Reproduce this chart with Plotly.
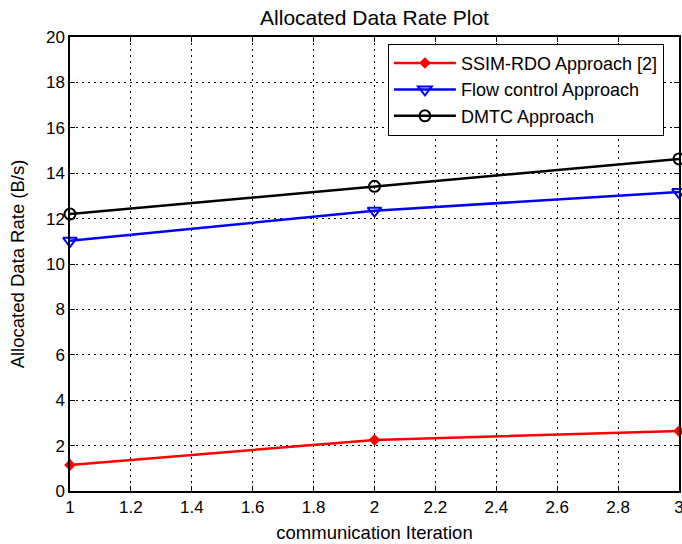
import plotly.graph_objects as go

iterations = [1, 2, 3]
ssim_rdo = [1.15, 2.25, 2.64]
flow_control = [11.02, 12.35, 13.17]
dmtc = [12.2, 13.42, 14.63]

x_ticks = [1, 1.2, 1.4, 1.6, 1.8, 2, 2.2, 2.4, 2.6, 2.8, 3]
x_labels = ["1", "1.2", "1.4", "1.6", "1.8", "2", "2.2", "2.4", "2.6", "2.8", "3"]
y_ticks = list(range(0, 21, 2))

FONT = "Liberation Sans, Arial, sans-serif"

fig = go.Figure()
fig.add_trace(go.Scatter(x=iterations, y=ssim_rdo, mode="lines+markers",
                         name="SSIM-RDO Approach [2]", cliponaxis=False,
                         line=dict(color="#ff0000", width=2.5),
                         marker=dict(symbol="diamond", size=9, color="#ff0000")))
fig.add_trace(go.Scatter(x=iterations, y=flow_control, mode="lines+markers",
                         name="Flow control Approach", cliponaxis=False,
                         line=dict(color="#0000ff", width=2.5),
                         marker=dict(symbol="triangle-down-open", size=12, color="#0000ff",
                                     line=dict(width=2))))
fig.add_trace(go.Scatter(x=iterations, y=dmtc, mode="lines+markers",
                         name="DMTC Approach", cliponaxis=False,
                         line=dict(color="#000000", width=2.5),
                         marker=dict(symbol="circle-open", size=11, color="#000000",
                                     line=dict(width=2))))

axis_common = dict(
    showline=True, linecolor="black", linewidth=1.5, mirror="ticks",
    ticks="inside", ticklen=5, tickcolor="black", tickwidth=1,
    showgrid=True, gridcolor="black", gridwidth=1, griddash="2px,4px",
    zeroline=False, automargin=False, ticklabeloverflow="allow",
    tickfont=dict(family=FONT, size=17, color="black"),
)

fig.update_layout(
    width=682, height=544,
    margin=dict(l=70, r=3, t=37, b=53, autoexpand=False),
    paper_bgcolor="white", plot_bgcolor="white",
    title=dict(text="Allocated Data Rate Plot", x=(70 + 679) / 2 / 682, xanchor="center",
               y=1 - 18 / 544, yanchor="middle",
               font=dict(family=FONT, size=21, color="black")),
    xaxis=dict(range=[1, 3], tickvals=x_ticks, ticktext=x_labels,
               title=dict(text="communication Iteration", standoff=10,
                          font=dict(family=FONT, size=18.5, color="black")),
               **axis_common),
    yaxis=dict(range=[0, 20], tickvals=y_ticks,
               title=dict(text="Allocated Data Rate (B/s)", standoff=16,
                          font=dict(family=FONT, size=18.5, color="black")),
               **axis_common),
    legend=dict(x=0.522, y=0.985, xanchor="left", yanchor="top",
                bgcolor="white", bordercolor="black", borderwidth=1,
                font=dict(family=FONT, size=18, color="black"),
                tracegroupgap=0, itemwidth=62),
    showlegend=True,
)

fig.write_html("out.html", config={"displayModeBar": False},
               post_script="document.body.style.margin='0';document.body.style.overflow='hidden';")
